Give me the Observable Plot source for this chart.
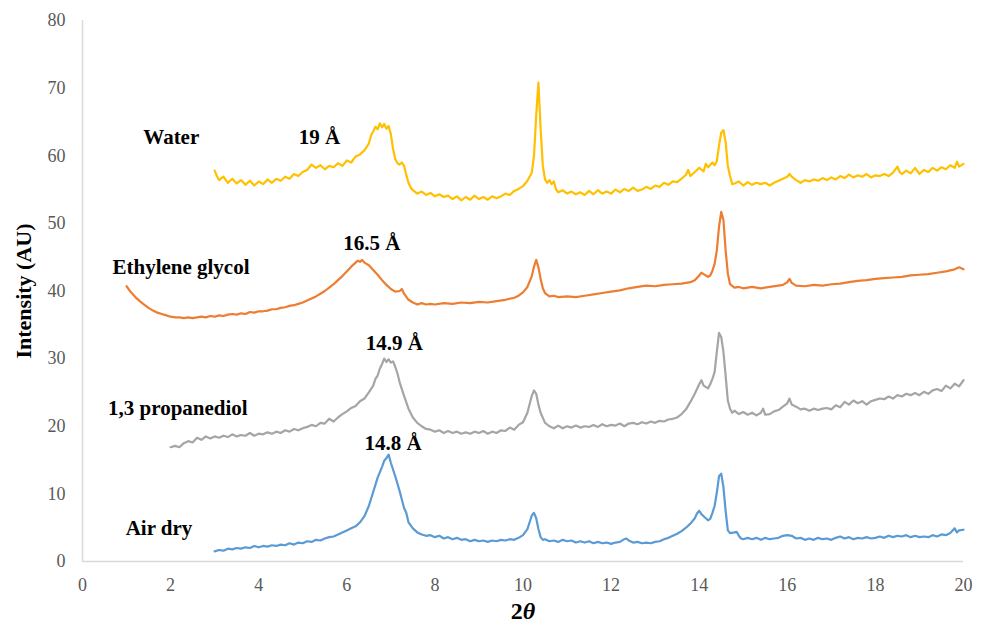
<!DOCTYPE html>
<html>
<head>
<meta charset="utf-8">
<script src="https://cdn.jsdelivr.net/npm/d3@7"></script>
<script src="https://cdn.jsdelivr.net/npm/@observablehq/plot@0.6"></script>
<style>
  html, body { margin: 0; padding: 0; background: #fff; }
</style>
</head>
<body>
<div id="chart"></div>
<script>
const xTicks = [0, 2, 4, 6, 8, 10, 12, 14, 16, 18, 20];
const yTicks = [0, 10, 20, 30, 40, 50, 60, 70, 80];

const seriesNames = ["Water", "Ethylene glycol", "1,3 propanediol", "Air dry"];
const seriesColors = ["#FFC000", "#ED7D31", "#A5A5A5", "#5B9BD5"];

const water = [[3.0,57.8],[3.05,57.0],[3.1,56.4],[3.2,56.9],[3.3,56.0],[3.4,56.6],[3.5,55.9],[3.6,56.4],[3.7,55.7],[3.8,56.3],[3.9,55.6],[4.0,56.2],[4.1,55.8],[4.2,56.5],[4.3,56.0],[4.4,56.6],[4.5,56.3],[4.6,56.9],[4.7,56.6],[4.8,57.3],[4.9,57.0],[5.0,57.6],[5.1,57.9],[5.2,58.7],[5.3,58.2],[5.4,58.6],[5.5,58.0],[5.6,58.5],[5.7,58.3],[5.8,58.9],[5.9,58.5],[6.0,59.3],[6.1,59.0],[6.2,59.9],[6.3,60.2],[6.4,60.8],[6.5,61.8],[6.55,63.0],[6.6,63.6],[6.65,64.3],[6.7,63.9],[6.75,64.8],[6.8,64.2],[6.85,64.7],[6.9,64.0],[6.95,64.4],[7.0,63.2],[7.05,61.0],[7.1,59.5],[7.15,58.9],[7.2,58.7],[7.25,59.0],[7.3,58.5],[7.35,57.2],[7.4,56.0],[7.45,55.3],[7.5,54.9],[7.6,54.4],[7.7,54.7],[7.8,54.2],[7.9,54.5],[8.0,54.0],[8.1,54.3],[8.2,53.9],[8.3,54.1],[8.4,53.6],[8.5,54.0],[8.6,53.4],[8.7,53.9],[8.8,53.5],[8.9,54.1],[9.0,53.6],[9.1,53.9],[9.2,53.5],[9.3,54.0],[9.4,53.7],[9.5,54.0],[9.6,54.4],[9.7,54.2],[9.8,54.8],[9.9,55.1],[10.0,55.5],[10.1,56.3],[10.2,57.5],[10.25,60.0],[10.3,66.0],[10.35,70.8],[10.4,64.0],[10.45,58.5],[10.5,56.5],[10.55,56.0],[10.6,56.4],[10.65,55.8],[10.7,56.2],[10.75,55.0],[10.8,54.6],[10.9,54.9],[11.0,54.4],[11.1,54.7],[11.2,54.3],[11.3,54.6],[11.4,54.2],[11.5,54.8],[11.6,54.3],[11.7,54.9],[11.8,54.4],[11.9,54.7],[12.0,54.4],[12.1,55.0],[12.2,54.6],[12.3,55.1],[12.4,54.8],[12.5,55.3],[12.6,54.8],[12.7,55.0],[12.8,55.4],[12.9,55.1],[13.0,55.6],[13.1,55.4],[13.2,56.0],[13.3,55.7],[13.4,56.2],[13.5,56.1],[13.6,56.6],[13.7,57.2],[13.75,57.9],[13.8,57.0],[13.9,57.6],[14.0,58.2],[14.1,57.7],[14.15,58.8],[14.2,58.3],[14.3,59.0],[14.35,58.6],[14.4,59.2],[14.45,61.5],[14.5,63.4],[14.55,63.8],[14.6,62.0],[14.65,58.5],[14.7,57.0],[14.75,55.8],[14.8,55.9],[14.9,56.2],[15.0,55.6],[15.1,56.1],[15.2,55.7],[15.3,56.0],[15.4,55.8],[15.5,56.0],[15.6,55.6],[15.7,56.0],[15.8,56.3],[15.9,56.6],[16.0,56.9],[16.05,57.3],[16.1,56.9],[16.2,56.4],[16.3,56.0],[16.4,56.4],[16.5,56.2],[16.6,56.5],[16.7,56.3],[16.8,56.7],[16.9,56.4],[17.0,56.8],[17.1,56.5],[17.2,57.0],[17.3,56.7],[17.4,57.2],[17.5,56.8],[17.6,57.1],[17.7,56.9],[17.8,57.3],[17.9,56.8],[18.0,57.1],[18.1,57.0],[18.2,57.3],[18.3,57.0],[18.4,57.5],[18.5,58.4],[18.55,57.6],[18.6,57.3],[18.7,57.8],[18.8,57.4],[18.9,58.2],[19.0,57.3],[19.1,57.9],[19.2,57.6],[19.3,58.2],[19.4,57.8],[19.5,58.3],[19.6,58.0],[19.7,58.6],[19.8,58.2],[19.85,59.1],[19.9,58.4],[20.0,58.8]];

const ethyleneGlycol = [[1.0,40.7],[1.1,39.8],[1.2,39.1],[1.3,38.5],[1.4,38.0],[1.5,37.5],[1.6,37.1],[1.7,36.8],[1.8,36.6],[1.9,36.4],[2.0,36.2],[2.1,36.1],[2.2,36.1],[2.3,36.0],[2.4,36.1],[2.5,36.0],[2.6,36.1],[2.7,36.2],[2.8,36.1],[2.9,36.3],[3.0,36.2],[3.1,36.4],[3.2,36.3],[3.3,36.5],[3.4,36.6],[3.5,36.5],[3.6,36.7],[3.7,36.6],[3.8,36.9],[3.9,36.8],[4.0,37.0],[4.1,37.0],[4.2,37.1],[4.3,37.3],[4.4,37.3],[4.5,37.5],[4.6,37.6],[4.7,37.8],[4.8,37.9],[4.9,38.1],[5.0,38.3],[5.1,38.6],[5.2,38.9],[5.3,39.2],[5.4,39.6],[5.5,40.0],[5.6,40.5],[5.7,41.0],[5.8,41.6],[5.9,42.2],[6.0,42.9],[6.1,43.6],[6.2,44.2],[6.25,44.5],[6.3,44.3],[6.35,44.6],[6.4,44.2],[6.5,43.8],[6.6,43.1],[6.7,42.4],[6.8,41.6],[6.9,40.9],[7.0,40.3],[7.1,39.9],[7.2,40.0],[7.25,40.3],[7.3,39.6],[7.4,38.7],[7.5,38.3],[7.6,38.0],[7.7,38.2],[7.8,38.0],[7.9,38.1],[8.0,38.0],[8.2,38.2],[8.4,38.1],[8.6,38.3],[8.8,38.2],[9.0,38.4],[9.2,38.3],[9.4,38.5],[9.6,38.7],[9.8,39.0],[9.9,39.3],[10.0,39.8],[10.1,40.6],[10.2,42.2],[10.25,43.6],[10.3,44.6],[10.35,43.5],[10.4,41.8],[10.45,40.4],[10.5,39.7],[10.6,39.2],[10.7,39.3],[10.8,39.1],[11.0,39.2],[11.2,39.1],[11.4,39.3],[11.6,39.5],[11.8,39.7],[12.0,39.9],[12.2,40.1],[12.4,40.4],[12.6,40.6],[12.8,40.8],[13.0,40.7],[13.2,40.9],[13.4,41.0],[13.6,41.1],[13.8,41.3],[13.9,41.6],[14.0,42.3],[14.05,42.7],[14.1,42.5],[14.2,42.1],[14.25,42.3],[14.3,43.0],[14.35,44.0],[14.4,46.0],[14.45,49.5],[14.5,51.7],[14.55,50.5],[14.6,46.0],[14.65,42.6],[14.7,41.0],[14.8,40.5],[14.9,40.6],[15.0,40.4],[15.2,40.6],[15.4,40.4],[15.6,40.6],[15.8,40.8],[15.9,40.9],[16.0,41.3],[16.05,41.8],[16.1,41.2],[16.2,40.8],[16.4,40.7],[16.6,40.9],[16.8,40.8],[17.0,41.0],[17.2,41.1],[17.4,41.3],[17.6,41.5],[17.8,41.6],[18.0,41.8],[18.2,41.9],[18.4,42.0],[18.6,42.1],[18.8,42.3],[19.0,42.4],[19.2,42.5],[19.4,42.7],[19.6,42.9],[19.8,43.2],[19.9,43.5],[20.0,43.2]];

const propanediol = [[2.0,16.9],[2.1,17.1],[2.2,16.9],[2.3,17.5],[2.4,17.8],[2.5,17.6],[2.6,18.3],[2.7,18.0],[2.8,18.5],[2.9,18.2],[3.0,18.5],[3.1,18.3],[3.2,18.6],[3.3,18.4],[3.4,18.8],[3.5,18.5],[3.6,18.7],[3.7,18.6],[3.8,19.0],[3.9,18.6],[4.0,18.9],[4.1,18.8],[4.2,19.1],[4.3,18.9],[4.4,19.2],[4.5,19.0],[4.6,19.4],[4.7,19.2],[4.8,19.6],[4.9,19.4],[5.0,19.7],[5.1,19.9],[5.2,20.2],[5.3,20.0],[5.4,20.5],[5.5,20.4],[5.6,21.1],[5.7,20.7],[5.8,21.3],[5.9,21.8],[6.0,22.2],[6.1,22.7],[6.2,23.0],[6.3,23.7],[6.4,24.1],[6.5,25.0],[6.6,26.0],[6.65,27.0],[6.7,27.5],[6.75,28.5],[6.8,29.2],[6.85,30.0],[6.9,29.5],[6.95,29.9],[7.0,29.4],[7.05,29.6],[7.1,28.8],[7.15,27.8],[7.2,26.5],[7.3,24.5],[7.4,22.6],[7.5,21.3],[7.6,20.5],[7.7,20.0],[7.8,19.6],[7.9,19.5],[8.0,19.2],[8.1,19.4],[8.2,19.0],[8.3,19.3],[8.4,19.0],[8.5,19.2],[8.6,18.9],[8.7,19.1],[8.8,18.9],[8.9,19.2],[9.0,19.0],[9.1,19.3],[9.2,18.9],[9.3,19.2],[9.4,19.0],[9.5,19.4],[9.6,19.3],[9.7,19.8],[9.8,19.5],[9.9,20.2],[10.0,20.6],[10.1,22.0],[10.2,24.5],[10.25,25.3],[10.3,24.8],[10.35,23.2],[10.4,22.0],[10.5,20.5],[10.6,20.0],[10.7,19.7],[10.8,20.1],[10.9,19.7],[11.0,20.0],[11.1,19.8],[11.2,20.1],[11.3,19.8],[11.4,20.0],[11.5,19.9],[11.6,20.2],[11.7,19.9],[11.8,20.3],[11.9,20.0],[12.0,20.2],[12.1,20.1],[12.2,20.4],[12.3,20.0],[12.4,20.4],[12.5,20.5],[12.6,20.3],[12.7,20.6],[12.8,20.4],[12.9,20.7],[13.0,20.5],[13.1,20.8],[13.2,20.7],[13.3,21.0],[13.4,21.1],[13.5,21.3],[13.6,21.8],[13.7,22.5],[13.8,23.6],[13.9,24.8],[14.0,26.2],[14.05,26.8],[14.1,26.0],[14.2,25.6],[14.25,26.2],[14.3,27.0],[14.35,28.0],[14.4,31.0],[14.45,33.8],[14.5,33.2],[14.55,31.0],[14.6,27.5],[14.65,23.8],[14.7,22.6],[14.75,22.0],[14.8,22.3],[14.9,21.8],[15.0,22.1],[15.1,21.7],[15.2,22.0],[15.3,21.6],[15.4,22.0],[15.45,22.6],[15.5,21.7],[15.6,21.8],[15.7,22.2],[15.8,22.4],[15.9,22.9],[16.0,23.4],[16.05,24.1],[16.1,23.2],[16.2,22.9],[16.3,22.5],[16.4,22.6],[16.5,22.3],[16.6,22.6],[16.7,22.4],[16.8,22.6],[16.9,22.7],[17.0,22.5],[17.1,23.1],[17.2,22.8],[17.3,23.6],[17.4,23.2],[17.5,23.8],[17.6,23.4],[17.7,23.7],[17.8,23.2],[17.9,23.7],[18.0,23.9],[18.1,24.1],[18.2,24.0],[18.3,24.4],[18.4,24.1],[18.5,24.6],[18.6,24.4],[18.7,24.8],[18.8,24.6],[18.9,24.9],[19.0,24.6],[19.1,25.1],[19.2,24.8],[19.3,25.3],[19.4,25.5],[19.5,25.2],[19.6,26.0],[19.7,25.6],[19.8,26.3],[19.9,25.9],[20.0,26.8]];

const airDry = [[3.0,1.5],[3.1,1.7],[3.2,1.6],[3.3,1.9],[3.4,1.8],[3.5,2.0],[3.6,1.9],[3.7,2.1],[3.8,2.0],[3.9,2.3],[4.0,2.1],[4.1,2.3],[4.2,2.2],[4.3,2.4],[4.4,2.3],[4.5,2.5],[4.6,2.4],[4.7,2.7],[4.8,2.5],[4.9,2.8],[5.0,2.7],[5.1,3.0],[5.2,2.9],[5.3,3.2],[5.4,3.1],[5.5,3.4],[5.6,3.6],[5.7,3.7],[5.8,4.0],[5.9,4.3],[6.0,4.6],[6.1,4.9],[6.2,5.2],[6.3,5.8],[6.4,6.7],[6.5,8.2],[6.6,10.3],[6.7,12.4],[6.8,14.0],[6.85,14.9],[6.9,15.3],[6.95,15.8],[7.0,14.6],[7.05,13.6],[7.1,12.6],[7.2,10.4],[7.3,7.9],[7.35,7.2],[7.4,5.8],[7.5,4.9],[7.6,4.3],[7.7,4.0],[7.8,3.8],[7.9,3.9],[8.0,3.6],[8.1,3.8],[8.2,3.4],[8.3,3.6],[8.4,3.3],[8.5,3.5],[8.6,3.2],[8.7,3.3],[8.8,3.0],[8.9,3.2],[9.0,3.0],[9.1,3.1],[9.2,2.9],[9.3,3.1],[9.4,3.0],[9.5,3.2],[9.6,3.1],[9.7,3.3],[9.8,3.2],[9.9,3.5],[10.0,3.9],[10.1,4.8],[10.15,5.8],[10.2,6.8],[10.25,7.2],[10.3,6.4],[10.35,4.8],[10.4,3.6],[10.45,3.2],[10.5,3.3],[10.6,3.0],[10.7,3.1],[10.8,2.9],[10.9,3.2],[11.0,3.0],[11.1,3.1],[11.2,2.8],[11.3,3.0],[11.4,2.8],[11.5,3.0],[11.6,2.7],[11.7,2.9],[11.8,2.7],[11.9,2.8],[12.0,2.6],[12.1,2.8],[12.2,2.9],[12.3,3.3],[12.35,3.4],[12.4,3.1],[12.5,2.8],[12.6,2.9],[12.7,2.7],[12.8,2.8],[12.9,2.7],[13.0,2.9],[13.1,3.0],[13.2,3.3],[13.3,3.5],[13.4,3.8],[13.5,4.1],[13.6,4.5],[13.7,5.0],[13.8,5.6],[13.9,6.4],[13.95,7.1],[14.0,7.5],[14.05,7.0],[14.1,6.7],[14.2,6.1],[14.25,6.3],[14.3,7.2],[14.35,8.2],[14.4,10.2],[14.45,12.6],[14.5,13.0],[14.55,11.0],[14.6,7.5],[14.65,4.6],[14.7,4.2],[14.8,4.3],[14.85,4.4],[14.9,3.8],[14.95,3.4],[15.0,3.3],[15.1,3.5],[15.2,3.3],[15.3,3.5],[15.4,3.2],[15.5,3.5],[15.6,3.3],[15.7,3.4],[15.8,3.5],[15.9,3.8],[16.0,3.9],[16.1,3.8],[16.2,3.4],[16.3,3.5],[16.4,3.2],[16.5,3.4],[16.6,3.2],[16.7,3.5],[16.8,3.3],[16.9,3.4],[17.0,3.2],[17.1,3.5],[17.2,3.7],[17.3,3.4],[17.4,3.6],[17.5,3.3],[17.6,3.5],[17.7,3.4],[17.8,3.6],[17.9,3.4],[18.0,3.5],[18.1,3.7],[18.2,3.5],[18.3,3.8],[18.4,3.6],[18.5,3.8],[18.6,3.7],[18.7,3.9],[18.8,3.6],[18.9,3.8],[19.0,3.6],[19.1,3.7],[19.2,3.6],[19.3,3.9],[19.4,3.7],[19.5,4.0],[19.6,3.9],[19.7,4.2],[19.8,4.9],[19.85,4.3],[19.9,4.6],[20.0,4.7]];

// Curve labels and peak annotations
const curveLabels = [
  {text: "Water", x: 1.38, y: 62.7},
  {text: "Ethylene glycol", x: 0.68, y: 43.5},
  {text: "1,3 propanediol", x: 0.58, y: 22.6},
  {text: "Air dry", x: 0.98, y: 4.9}
];
const peakLabels = [
  {text: "19 Å", x: 5.38, y: 62.7},
  {text: "16.5 Å", x: 6.57, y: 47.0},
  {text: "14.9 Å", x: 7.08, y: 32.2},
  {text: "14.8 Å", x: 7.05, y: 17.45}
];

const seriesData = [water, ethyleneGlycol, propanediol, airDry];
const rows = seriesData.flatMap((arr, i) => arr.map(([x, y]) => ({x, y, s: seriesNames[i]})));

const serif = "'Liberation Serif', 'Times New Roman', serif";

const chart = Plot.plot({
  width: 986,
  height: 629,
  marginLeft: 82,
  marginRight: 23,
  marginTop: 20,
  marginBottom: 68,
  style: {fontFamily: serif, fontSize: "18px", color: "#595959", background: "#fff", overflow: "visible"},
  x: {domain: [0, 20]},
  y: {domain: [0, 80]},
  color: {domain: seriesNames, range: seriesColors},
  marks: [
    Plot.ruleX([0], {stroke: "#d9d9d9", strokeWidth: 1.5}),
    Plot.ruleY([0], {stroke: "#d9d9d9", strokeWidth: 1.5}),
    Plot.axisX({ticks: xTicks, tickSize: 0, tickPadding: 17, label: null, fill: "#595959"}),
    Plot.axisY({ticks: yTicks, tickSize: 0, tickPadding: 17, label: null, fill: "#595959"}),
    Plot.line(rows, {x: "x", y: "y", z: "s", stroke: "s", strokeWidth: 2.2, curve: "linear"}),
    Plot.text(curveLabels, {x: "x", y: "y", text: "text", textAnchor: "start", fontWeight: "bold", fontSize: 21, fill: "#000"}),
    Plot.text(peakLabels, {x: "x", y: "y", text: "text", fontWeight: "bold", fontSize: 21, fill: "#000"}),
    Plot.text(["2θ"], {frameAnchor: "bottom", textAnchor: "middle", dy: 57, fontWeight: "bold", fontSize: 24, fill: "#000"}),
    Plot.text(["Intensity (AU)"], {frameAnchor: "left", textAnchor: "middle", dx: -59, rotate: -90, fontWeight: "bold", fontSize: 22, fill: "#000"})
  ]
});

document.getElementById("chart").appendChild(chart);

// style the theta in the x title as italic
d3.select(chart).selectAll("text").each(function() {
  if (this.textContent === "2θ") {
    const t = d3.select(this);
    t.text(null);
    t.append("tspan").text("2");
    t.append("tspan").attr("font-style", "italic").text("θ");
  }
});
</script>
</body>
</html>
